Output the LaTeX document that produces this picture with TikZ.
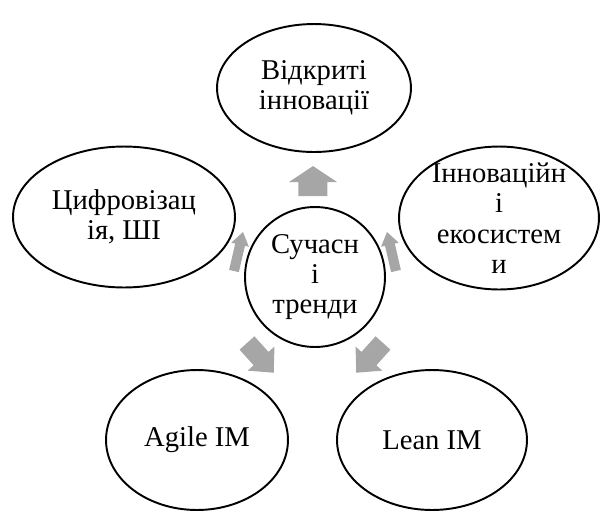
\documentclass[tikz,border=0pt]{standalone}
\usepackage{fontspec}
\setmainfont{Liberation Serif}
\usetikzlibrary{shapes.geometric}
\definecolor{arrowgray}{HTML}{A6A6A6}
% block arrow: x, y, angle, length, shaft length, shaft half width, head half width
\newcommand{\trendarrow}[7]{%
  \fill[arrowgray,shift={(#1,#2)},rotate=#3] (0,-#6)--(#5,-#6)--(#5,-#7)--(#4,0)--(#5,#7)--(#5,#6)--(0,#6)--cycle;}
\begin{document}
\begin{tikzpicture}[x=0.02cm,y=-0.02cm,
  every node/.style={font=\fontsize{16.3}{17.3}\selectfont,align=center,inner sep=0pt},
  bubble/.style={draw,ellipse,line width=1.1pt},
  hub/.style={draw,circle,line width=1.1pt,minimum size=2.8cm}]
\useasboundingbox (0,0) rectangle (600,512);
% outer bubbles
\node[bubble,minimum width=3.88cm,minimum height=2.56cm] (open) at (314,88) {};
\node[bubble,minimum width=4.44cm,minimum height=2.82cm] (digital) at (124,217) {};
\node[bubble,minimum width=4.0cm,minimum height=2.86cm] (ecosys) at (499,218) {};
\node[bubble,minimum width=3.64cm,minimum height=2.8cm] (agile) at (197,440) {};
\node[bubble,minimum width=3.8cm,minimum height=2.8cm] (lean) at (432,440) {};
% centre
\node[hub] (trends) at (315,277) {};
% texts
\node (trendstxt) at (trends) {Сучасн\\і\\тренди};
\node (opentxt) at (open) {Відкриті\\інновації};
\node (digitaltxt) at (digital) {Цифровізац\\ія, ШІ};
\node (ecosystxt) at (ecosys) {Інноваційн\\і\\екосистем\\и};
\node (agiletxt) at (agile) {Agile IM};
\node (leantxt) at (lean) {Lean IM};
% arrows
\trendarrow{313}{196}{90}{30}{14}{14.5}{24}
\trendarrow{234}{271}{77}{40}{27}{5}{9}
\trendarrow{396}{271}{103}{40}{27}{5}{9}
\trendarrow{247}{343}{-48}{40}{21}{10}{18}
\trendarrow{383}{343}{-132}{40}{21}{10}{18}
\end{tikzpicture}
\end{document}
